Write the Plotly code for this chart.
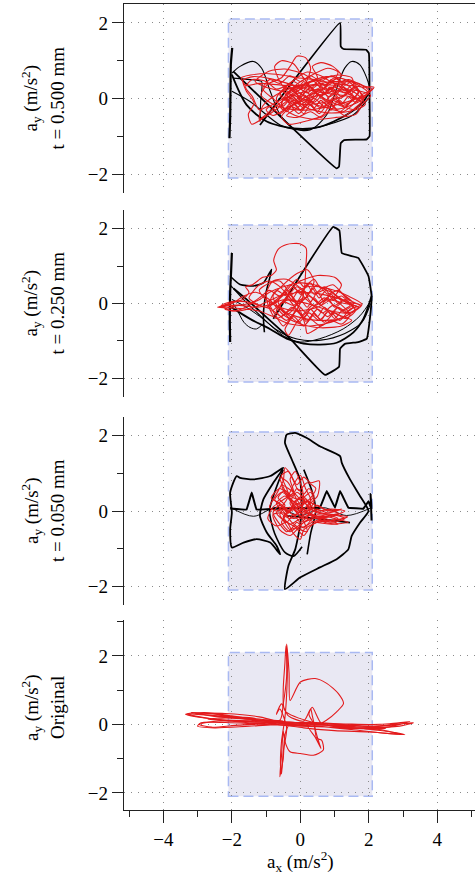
import plotly.graph_objects as go

# ---------------------------------------------------------------
# Acceleration trajectories (a_x, a_y) in m/s^2 for four cases
# ---------------------------------------------------------------
panel_labels = ["t = 0.500 mm", "t = 0.250 mm", "t = 0.050 mm", "Original"]
x_ticks = [-4, -2, 0, 2, 4]
y_ticks = [-2, 0, 2]
limit_box = 2.1  # acceleration limit square (|a| <= 2.1 m/s^2)

# --- t = 0.500 mm -------------------------------------------------
p1_black_arrow = [(-1.18, -0.70), (1.16, 2.0), (1.18, 1.38), (1.26, 1.31), (1.92, 1.29),
                  (2.0, 1.2), (2.02, 0.0), (2.02, -1.0), (1.94, -1.08), (1.28, -1.1),
                  (1.18, -1.18), (1.13, -1.8), (1.06, -1.85), (-1.96, 0.72)]
p1_black_left = [(-1.99, 1.34), (-2.03, 0.9), (-2.04, 0.2), (-2.05, -0.5), (-2.07, -1.05)]
p1_black_bowl_a = [(-2.0, 0.63), (-1.57, -0.17), (-0.98, -0.61), (-0.2, -0.79), (0.57, -0.75),
                   (1.35, -0.43), (1.84, -0.08), (2.02, 0.19)]
p1_black_bowl_b = [(-2.0, 0.67), (-1.76, 0.85), (-1.37, 0.98), (-1.13, 0.80), (-0.88, 0.19),
                   (-0.59, -0.43), (-0.2, -0.79), (0.28, -0.83), (0.77, -0.43), (1.06, 0.27),
                   (1.3, 0.81), (1.5, 0.98), (1.74, 0.89), (1.94, 0.54), (2.02, 0.3)]
p1_black_bowl_c = [(-2.0, 0.19), (-1.47, -0.08), (-0.59, -0.70), (0.0, -0.83), (0.77, -0.70),
                   (1.55, -0.43), (1.99, 0.01)]
p1_black_hook = [(-1.96, 0.54), (-1.47, 0.50), (-1.13, 0.45), (-1.16, -0.08), (-1.18, -0.61)]
p1_red = [(-1.72, 0.55), (-1.45, 0.62), (-1.0, 0.66), (-0.55, 0.62), (-0.1, 0.55), (0.4, 0.5),
          (0.9, 0.42), (1.4, 0.35), (1.85, 0.3), (2.15, 0.3), (1.95, 0.12), (1.5, -0.05),
          (0.9, -0.2), (0.3, -0.3), (-0.3, -0.28), (-0.8, -0.15), (-1.15, 0.1), (-0.95, 0.38),
          (-0.55, 0.55), (-0.3, 0.85), (-0.1, 1.12), (0.15, 1.08), (0.3, 0.8), (0.15, 0.4),
          (-0.25, 0.05), (-0.65, -0.25), (-1.05, -0.5), (-1.42, -0.68), (-1.52, -0.42),
          (-1.35, -0.12), (-1.58, 0.2), (-1.68, 0.48), (-1.38, 0.58), (-0.85, 0.52), (-0.3, 0.38),
          (0.3, 0.22), (0.9, 0.12), (1.45, 0.05), (1.8, -0.12), (1.62, -0.42), (1.05, -0.5),
          (0.45, -0.55), (-0.15, -0.45), (-0.55, -0.2), (-0.35, 0.18), (0.2, 0.42), (0.75, 0.58),
          (1.25, 0.52), (1.7, 0.35), (1.98, 0.15), (1.72, -0.08), (1.1, -0.28), (0.5, -0.18),
          (0.0, 0.02), (-0.5, 0.18), (-1.0, 0.3), (-1.32, 0.45), (-0.92, 0.72), (-0.45, 0.78),
          (0.15, 0.62), (0.55, 0.32), (0.85, -0.08), (0.65, -0.45), (0.15, -0.6), (-0.35, -0.68),
          (-0.55, -0.48), (-0.25, -0.2), (0.4, 0.05), (1.0, 0.2), (1.6, 0.22), (2.05, 0.08),
          (1.5, -0.32), (0.8, -0.38), (0.2, -0.25), (-0.3, 0.1), (-0.6, 0.45), (-0.75, 0.85),
          (-0.55, 1.0), (-0.2, 0.92), (0.05, 0.6), (0.3, 0.3), (0.7, 0.0), (1.2, -0.2), (1.6, -0.3),
          (1.9, -0.15), (1.6, 0.15), (1.0, 0.35), (0.4, 0.35), (-0.1, 0.2), (-0.5, -0.05),
          (-0.9, -0.35), (-1.2, -0.55), (-1.1, -0.2), (-0.7, 0.1), (-0.2, 0.3), (0.5, 0.48),
          (1.1, 0.62), (1.5, 0.55), (1.55, 0.3), (1.2, 0.05), (0.6, -0.12), (0.0, -0.15),
          (-0.4, 0.0), (-0.2, 0.3), (0.3, 0.6), (0.8, 0.8), (1.1, 0.7), (0.9, 0.4), (0.3, 0.1),
          (-0.3, -0.2), (-0.8, -0.45), (-1.0, -0.3), (-0.6, -0.05), (0.0, 0.15), (0.7, 0.25),
          (1.3, 0.15), (1.75, 0.0), (2.0, 0.2), (1.7, 0.4), (1.0, 0.45), (0.2, 0.35), (-0.5, 0.35),
          (-1.2, 0.4), (-1.6, 0.35), (-1.72, 0.55)]
p1_red_b = [(-0.4, 0.1), (-0.1, 0.3), (0.2, 0.15), (0.5, 0.35), (0.8, 0.2), (1.1, 0.4), (1.4, 0.2),
            (1.6, 0.0), (1.3, -0.15), (1.0, 0.05), (0.7, -0.2), (0.4, 0.0), (0.1, -0.25), (-0.2, -0.05),
            (-0.5, -0.3), (-0.7, 0.0), (-0.5, 0.25), (-0.2, 0.45), (0.1, 0.3), (0.4, 0.5), (0.7, 0.35),
            (1.0, 0.55), (1.3, 0.35), (1.5, 0.45), (1.7, 0.2), (1.45, -0.1), (1.15, -0.35),
            (0.85, -0.1), (0.55, -0.4), (0.25, -0.15), (-0.05, -0.4), (-0.35, -0.1), (-0.6, 0.15),
            (-0.3, 0.3), (0.0, 0.05), (0.3, 0.3), (0.6, 0.05), (0.9, 0.3), (1.2, 0.05), (1.5, 0.25),
            (1.2, 0.45), (0.9, 0.6), (0.6, 0.45), (0.3, 0.6), (0.0, 0.45), (-0.3, 0.6), (-0.6, 0.4),
            (-0.9, 0.5), (-1.1, 0.25), (-0.8, 0.0), (-0.5, -0.2), (-0.2, 0.1), (0.1, -0.1),
            (0.4, 0.15), (0.7, -0.05), (1.0, -0.25), (1.3, -0.45), (1.6, -0.25), (1.85, 0.0),
            (1.6, 0.3), (1.3, 0.15), (1.0, 0.3), (0.7, 0.15), (0.4, -0.1), (0.1, 0.1), (-0.2, -0.15),
            (-0.45, 0.05), (-0.2, 0.25), (0.15, 0.05), (0.5, 0.25), (0.85, 0.05), (1.2, 0.25),
            (1.55, 0.05), (1.3, -0.2), (0.95, -0.05), (0.6, -0.25), (0.25, -0.05), (-0.1, -0.25),
            (-0.4, -0.45), (-0.1, -0.5), (0.3, -0.35), (0.6, -0.5), (0.9, -0.3), (1.25, -0.35),
            (1.55, -0.15), (1.8, 0.1), (2.1, 0.25), (1.8, 0.35), (1.4, 0.5), (1.0, 0.4), (0.6, 0.6),
            (0.2, 0.7), (-0.1, 0.55), (-0.4, 0.35), (-0.7, 0.25), (-1.0, 0.45), (-1.4, 0.5),
            (-1.6, 0.3), (-1.4, 0.05), (-1.2, -0.3), (-0.9, -0.2), (-0.6, -0.4), (-0.3, -0.2),
            (0.0, -0.3), (0.3, -0.05), (0.6, 0.2), (0.9, 0.45), (1.2, 0.6), (0.95, 0.85), (0.6, 0.95),
            (0.35, 0.85), (0.5, 0.55), (0.2, 0.4), (-0.4, 0.1)]
p1_red_c = [(0.0, 0.0), (0.15, 0.2), (0.35, 0.05), (0.5, 0.25), (0.7, 0.1), (0.85, 0.3), (1.05, 0.12),
            (1.25, 0.3), (1.45, 0.1), (1.65, 0.25), (1.8, 0.05), (1.6, -0.1), (1.4, 0.05), (1.2, -0.15),
            (1.0, 0.0), (0.8, -0.2), (0.6, -0.05), (0.4, -0.25), (0.2, -0.1), (0.0, -0.3), (-0.2, -0.15),
            (-0.4, -0.35), (-0.55, -0.1), (-0.35, 0.05), (-0.15, -0.05), (0.05, 0.15), (0.25, 0.35),
            (0.45, 0.15), (0.65, 0.4), (0.85, 0.15), (1.05, 0.4), (1.3, 0.2), (1.5, 0.35), (1.7, 0.15),
            (1.5, -0.05), (1.3, -0.25), (1.1, -0.05), (0.9, -0.3), (0.7, -0.1), (0.5, -0.35),
            (0.3, -0.15), (0.1, -0.4), (-0.1, -0.2), (-0.3, 0.0), (-0.5, 0.2), (-0.3, 0.4), (-0.1, 0.25),
            (0.1, 0.45), (0.3, 0.25), (0.5, 0.45), (0.7, 0.25), (0.9, 0.5), (1.1, 0.25), (1.35, 0.45),
            (1.6, 0.3), (1.4, 0.15), (1.15, 0.0), (0.95, 0.15), (0.75, -0.05), (0.55, 0.1), (0.35, -0.1),
            (0.15, 0.05), (-0.05, -0.1), (-0.25, 0.1), (-0.45, -0.05), (-0.6, 0.1), (-0.4, 0.3),
            (-0.1, 0.1), (0.0, 0.0)]

# --- t = 0.250 mm -------------------------------------------------
p2_black_arrow = [(-0.79, -0.41), (0.96, 2.05), (1.14, 1.95), (1.21, 1.35), (1.45, 1.28),
                  (1.69, 1.22), (1.99, 0.73), (2.08, 0.20), (2.03, -0.41), (1.94, -0.94),
                  (1.69, -1.03), (1.30, -1.08), (1.16, -1.21), (1.13, -1.69), (0.72, -1.91),
                  (-0.30, -0.94), (-1.57, 0.11), (-1.95, 0.4)]
p2_black_left = [(-2.0, 1.35), (-2.02, 0.9), (-2.05, 0.3), (-2.06, -0.4), (-2.05, -1.03)]
p2_black_tail = [(-2.05, 0.73), (-1.76, 0.51), (-1.37, 0.47), (-1.08, 0.55), (-0.84, 0.91),
                 (-1.0, 0.3), (-1.08, -0.3), (-1.05, -0.77)]
p2_black_small = [(-2.0, 0.05), (-1.86, -0.15), (-1.65, -0.5), (-1.47, -0.64), (-1.28, -0.68),
                  (-1.1, -0.55)]
p2_black_bowl_a = [(-2.0, -0.11), (-1.47, -0.41), (-0.89, -0.68), (-0.40, -0.94), (0.09, -1.07),
                   (0.57, -1.10), (1.06, -1.05), (1.55, -0.77), (1.84, -0.41), (2.08, 0.20)]
p2_black_bowl_b = [(-2.0, 0.11), (-1.56, -0.11), (-1.08, -0.42), (-0.50, -0.86), (-0.01, -1.03),
                   (0.57, -0.94), (1.25, -0.68), (1.74, -0.33), (2.08, 0.11)]
p2_black_bowl_c = [(-2.05, 0.5), (-1.6, 0.05), (-1.2, -0.3), (-0.7, -0.7), (-0.1, -0.95),
                   (0.6, -0.98), (1.3, -0.8), (1.8, -0.5), (2.05, 0.0)]
p2_red = [(-2.42, -0.1), (-2.0, -0.05), (-1.6, -0.02), (-1.2, 0.1), (-0.9, 0.3), (-0.5, 0.45),
          (0.0, 0.55), (0.4, 0.5), (0.9, 0.3), (1.35, 0.05), (1.78, -0.05), (1.4, -0.3),
          (0.9, -0.5), (0.3, -0.6), (-0.3, -0.55), (-0.8, -0.35), (-1.2, -0.2), (-1.6, -0.15),
          (-2.0, -0.12), (-2.4, -0.1), (-2.1, 0.0), (-1.7, 0.1), (-1.5, 0.3), (-1.6, 0.45),
          (-1.4, 0.5), (-1.1, 0.7), (-0.85, 0.75), (-0.7, 0.9), (-0.78, 1.15), (-0.65, 1.45),
          (-0.4, 1.58), (-0.02, 1.6), (0.17, 1.48), (0.16, 1.0), (0.13, 0.5), (0.05, 0.1),
          (-0.2, -0.3), (-0.45, -0.7), (-0.35, -0.85), (-0.1, -0.5), (0.3, -0.15), (0.8, 0.1),
          (1.3, 0.0), (1.7, -0.1), (1.3, -0.35), (0.7, -0.55), (0.2, -0.8), (0.15, -0.6),
          (0.0, -0.2), (-0.3, 0.25), (-0.6, 0.6), (-0.9, 0.55), (-1.2, 0.35), (-1.0, 0.1),
          (-0.6, -0.1), (-0.1, -0.2), (0.5, -0.1), (1.0, 0.2), (1.2, 0.5), (1.0, 0.7), (0.5, 0.75),
          (0.0, 0.6), (-0.4, 0.3), (-0.8, 0.0), (-1.3, -0.1), (-1.8, -0.05), (-2.2, -0.15),
          (-1.8, -0.2), (-1.2, -0.05), (-0.6, 0.2), (0.0, 0.3), (0.6, 0.25), (1.2, 0.1),
          (1.6, -0.15), (1.2, -0.4), (0.5, -0.45), (-0.1, -0.35), (-0.6, -0.15), (-0.8, 0.2),
          (-0.5, 0.5), (-0.1, 0.8), (0.2, 0.9), (0.4, 0.6), (0.2, 0.2), (-0.2, -0.1), (-0.7, -0.4),
          (-0.9, -0.1), (-0.5, 0.1), (0.2, 0.0), (0.9, -0.2), (1.5, -0.25), (1.8, -0.02), (1.4, 0.2),
          (0.8, 0.4), (0.2, 0.45), (-0.4, 0.15), (-0.85, -0.2), (-1.0, 0.25), (-0.8, 0.6),
          (-0.4, 0.65), (0.1, 0.35), (0.6, -0.05), (1.1, -0.3), (1.5, -0.45), (1.2, -0.6),
          (0.6, -0.65), (0.0, -0.55), (-0.5, -0.3), (-0.9, 0.1), (-1.3, 0.3), (-1.65, 0.2),
          (-2.0, 0.0), (-2.42, -0.1)]
p2_red_b = [(-0.6, 0.2), (-0.3, 0.5), (0.0, 0.3), (0.3, 0.55), (0.5, 0.3), (0.8, 0.4), (1.1, 0.15),
            (1.4, 0.0), (1.7, -0.1), (1.4, -0.25), (1.1, -0.1), (0.8, -0.35), (0.5, -0.15),
            (0.2, -0.45), (-0.1, -0.2), (-0.4, -0.45), (-0.7, -0.2), (-0.5, 0.05), (-0.2, -0.05),
            (0.1, 0.15), (0.4, -0.05), (0.7, 0.15), (1.0, -0.05), (1.3, 0.1), (1.6, -0.2), (1.3, -0.4),
            (1.0, -0.25), (0.7, -0.5), (0.4, -0.3), (0.1, -0.6), (-0.2, -0.35), (-0.5, -0.6),
            (-0.7, -0.35), (-0.9, 0.0), (-0.7, 0.35), (-0.4, 0.2), (-0.1, 0.45), (0.2, 0.25),
            (0.5, 0.5), (0.8, 0.25), (1.1, 0.35), (1.4, 0.1), (1.75, -0.05), (1.45, -0.15),
            (1.15, -0.45), (0.85, -0.2), (0.55, -0.45), (0.25, -0.25), (-0.05, -0.5), (-0.35, -0.3),
            (-0.6, -0.05), (-0.35, 0.1), (-0.05, 0.0), (0.25, 0.2), (0.55, 0.0), (0.85, 0.2),
            (1.15, 0.0), (1.45, -0.3), (1.2, -0.55), (0.9, -0.45), (0.6, -0.6), (0.3, -0.4),
            (0.0, -0.1), (-0.3, 0.15), (-0.6, 0.45), (-0.9, 0.6), (-1.2, 0.5), (-1.4, 0.3),
            (-1.5, 0.15), (-1.3, 0.0), (-1.0, -0.1), (-0.7, 0.1), (-0.4, 0.35), (-0.1, 0.65),
            (0.1, 0.45), (0.4, 0.65), (0.6, 0.4), (0.95, 0.5), (1.25, 0.25), (1.55, 0.0),
            (1.25, -0.2), (0.95, -0.05), (0.65, -0.25), (0.35, -0.05), (0.05, -0.3), (-0.25, -0.1),
            (-0.55, -0.35), (-0.85, -0.15), (-1.2, -0.05), (-1.6, 0.05), (-2.0, 0.05), (-2.3, -0.05),
            (-2.0, -0.2), (-1.6, -0.1), (-1.2, 0.15), (-0.9, 0.35), (-0.6, 0.2)]
p2_red_c = [(-0.5, 0.0), (-0.3, 0.25), (-0.1, 0.05), (0.1, 0.3), (0.3, 0.05), (0.5, 0.3), (0.7, 0.05),
            (0.9, 0.25), (1.1, 0.0), (1.3, 0.1), (1.55, -0.08), (1.3, -0.25), (1.1, -0.1), (0.9, -0.3),
            (0.7, -0.1), (0.5, -0.35), (0.3, -0.15), (0.1, -0.4), (-0.1, -0.15), (-0.3, -0.4),
            (-0.5, -0.2), (-0.65, 0.05), (-0.45, 0.3), (-0.25, 0.1), (-0.05, 0.35), (0.15, 0.15),
            (0.35, 0.4), (0.55, 0.15), (0.75, 0.35), (0.95, 0.1), (1.2, 0.2), (1.45, -0.05),
            (1.2, -0.2), (1.0, -0.4), (0.8, -0.2), (0.6, -0.45), (0.4, -0.25), (0.2, -0.5), (0.0, -0.3),
            (-0.2, -0.05), (-0.4, 0.15), (-0.6, -0.1), (-0.4, -0.3), (-0.2, -0.15), (0.0, 0.1),
            (0.2, -0.1), (0.4, 0.15), (0.6, -0.05), (0.8, 0.15), (1.0, -0.1), (1.2, 0.05), (1.0, 0.25),
            (0.7, 0.45), (0.4, 0.25), (0.2, 0.5), (0.0, 0.25), (-0.2, 0.45), (-0.5, 0.0)]

# --- t = 0.050 mm -------------------------------------------------
p3_black_loop = [(-0.45, -2.08), (-0.35, -1.46), (-0.15, -1.02), (-0.01, -0.40), (0.04, 0.22),
                 (-0.01, 0.84), (-0.25, 1.37), (-0.45, 1.81), (-0.40, 2.03), (-0.15, 2.08),
                 (0.19, 1.94), (0.57, 1.72), (1.16, 1.46), (1.21, 1.28), (1.45, 0.84), (1.74, 0.40),
                 (1.99, 0.0), (1.74, -0.31), (1.50, -0.66), (1.40, -1.02), (1.06, -1.28),
                 (0.57, -1.50), (-0.01, -1.77), (-0.45, -2.08)]
p3_black_hourglass = [(-1.86, 0.93), (-2.05, 0.49), (-2.0, -0.04), (-2.05, -0.49), (-2.0, -0.97),
                      (-1.66, -0.84), (-1.28, -0.75), (-0.88, -0.84), (-0.59, -1.15),
                      (-0.69, -0.93), (-0.98, -0.57), (-1.18, -0.13), (-1.08, 0.31), (-0.79, 0.75),
                      (-0.50, 1.15), (-0.88, 0.93), (-1.37, 0.84), (-1.76, 0.88), (-1.86, 0.93)]
p3_black_axis = [(-2.05, 0.07), (-1.57, 0.04), (-1.42, 0.49), (-1.28, 0.04), (-0.5, 0.07),
                 (0.57, 0.09), (0.77, 0.53), (1.01, 0.09), (1.16, 0.53), (1.40, 0.09),
                 (1.84, 0.06), (1.99, 0.26), (2.08, 0.04), (2.05, 0.45), (2.08, -0.25)]
p3_black_wave = [(-2.05, 0.1), (-1.37, -0.14), (-0.69, 0.1), (-0.01, -0.12), (0.67, 0.09),
                 (1.35, -0.12), (2.08, 0.09)]
p3_black_inner_l = [(-0.5, 1.1), (-0.75, 0.5), (-0.9, 0.0), (-0.75, -0.6), (-0.45, -1.1),
                    (-0.2, -1.2), (0.05, -0.95)]
p3_black_inner_r = [(0.1, 1.1), (0.35, 0.5), (0.45, 0.0), (0.3, -0.6), (0.2, -1.15)]
p3_black_bar = [(-0.4, -0.13), (0.5, -0.2), (1.45, -0.31)]
p3_red = [(-0.9, 0.1), (-0.7, 0.45), (-0.5, 0.8), (-0.45, 1.15), (-0.3, 1.0), (-0.1, 0.7),
          (0.1, 0.9), (0.3, 0.75), (0.55, 0.8), (0.5, 0.4), (0.2, 0.1), (0.6, -0.05), (1.0, -0.1),
          (1.38, -0.15), (1.0, -0.25), (0.5, -0.3), (0.1, -0.5), (0.0, -0.75), (-0.2, -0.6),
          (-0.4, -0.3), (-0.7, -0.4), (-0.95, -0.2), (-0.8, 0.1), (-0.5, 0.3), (-0.2, 0.5),
          (-0.3, 0.85), (-0.15, 1.05), (0.05, 0.6), (0.15, 0.2), (0.4, 0.0), (0.9, 0.05), (1.3, 0.0),
          (0.9, -0.15), (0.4, -0.2), (0.0, -0.35), (-0.3, -0.55), (-0.55, -0.3), (-0.35, 0.0),
          (-0.6, 0.2), (-0.85, 0.35), (-0.6, 0.6), (-0.3, 0.4), (0.0, 0.3), (0.3, 0.5), (0.4, 0.25),
          (0.1, -0.1), (-0.2, -0.2), (-0.5, -0.05), (-0.8, -0.1), (-0.6, -0.5), (-0.3, -0.65),
          (0.1, -0.3), (0.5, -0.1), (1.0, -0.2), (1.4, -0.3), (0.9, -0.35), (0.3, -0.25),
          (-0.1, 0.05), (-0.4, 0.45), (-0.6, 0.9), (-0.35, 0.75), (-0.1, 0.3), (0.2, -0.05),
          (0.6, -0.15), (1.1, -0.05), (0.7, 0.05), (0.2, 0.25), (-0.2, 0.15), (-0.5, -0.2),
          (-0.2, -0.4), (0.2, -0.55), (0.05, -0.2), (-0.3, 0.1), (-0.7, 0.0), (-0.9, 0.1)]
p3_red_b = [(-0.3, 0.2), (-0.1, 0.5), (0.1, 0.3), (0.0, 0.0), (-0.3, -0.2), (-0.6, 0.0), (-0.4, 0.3),
            (-0.2, 0.7), (0.0, 0.95), (0.15, 0.6), (0.3, 0.3), (0.1, 0.05), (-0.2, -0.1), (-0.5, 0.1),
            (-0.75, 0.3), (-0.55, 0.5), (-0.3, 0.35), (-0.05, 0.1), (0.25, -0.1), (0.6, -0.2),
            (0.95, -0.1), (1.3, -0.2), (0.95, -0.3), (0.6, -0.25), (0.3, -0.4), (0.1, -0.65),
            (-0.15, -0.45), (-0.4, -0.55), (-0.6, -0.35), (-0.8, -0.05), (-0.6, 0.15), (-0.35, -0.05),
            (-0.1, 0.2), (0.2, 0.0), (0.5, 0.15), (0.8, 0.0), (1.2, 0.05), (0.8, -0.05), (0.45, 0.05),
            (0.15, -0.2), (-0.15, 0.0), (-0.4, 0.6), (-0.55, 0.95), (-0.35, 1.05), (-0.2, 0.8),
            (-0.05, 0.55), (0.2, 0.75), (0.45, 0.6), (0.3, 0.35), (0.05, 0.15), (-0.25, 0.05),
            (-0.5, -0.15), (-0.3, -0.35), (0.0, -0.2), (0.3, -0.1), (0.7, -0.3), (1.1, -0.35),
            (0.7, -0.2), (0.35, -0.3), (0.0, -0.45), (-0.25, -0.3), (-0.5, 0.0), (-0.7, 0.2),
            (-0.45, 0.4), (-0.2, 0.25), (0.05, 0.4), (0.3, 0.15), (0.0, -0.05), (-0.3, 0.2)]
p3_red_c = [(-0.3, 0.0), (-0.15, 0.25), (0.0, 0.05), (0.15, 0.3), (0.3, 0.1), (0.2, -0.15), (0.0, -0.3),
            (-0.2, -0.1), (-0.4, -0.3), (-0.6, -0.1), (-0.45, 0.15), (-0.65, 0.35), (-0.45, 0.55),
            (-0.25, 0.4), (-0.1, 0.6), (0.1, 0.45), (0.25, 0.6), (0.4, 0.4), (0.25, 0.2), (0.45, 0.0),
            (0.3, -0.25), (0.1, -0.45), (-0.1, -0.3), (-0.3, -0.5), (-0.5, -0.25), (-0.7, -0.05),
            (-0.55, 0.1), (-0.35, -0.05), (-0.2, 0.15), (0.05, -0.05), (0.25, -0.05), (0.5, -0.15),
            (0.8, -0.25), (1.1, -0.2), (0.8, -0.1), (0.5, -0.05), (0.2, 0.15), (0.0, 0.35),
            (-0.2, 0.2), (-0.4, 0.4), (-0.55, 0.7), (-0.35, 0.6), (-0.15, 0.45), (0.05, 0.2),
            (-0.3, 0.0)]

# --- Original -----------------------------------------------------
p4_red = [(-0.5, 0.1), (-1.2, 0.15), (-2.0, 0.25), (-2.8, 0.35), (-3.35, 0.3), (-2.9, 0.2),
          (-2.0, 0.12), (-1.0, 0.1), (0.0, 0.05), (1.0, 0.0), (2.0, -0.05), (2.8, 0.0), (3.3, 0.05),
          (2.9, -0.05), (2.0, -0.1), (1.0, -0.08), (0.0, -0.05), (-1.0, 0.0), (-2.0, 0.05),
          (-2.9, 0.05), (-3.0, -0.05), (-2.5, -0.1), (-1.5, -0.05), (-0.5, 0.0), (0.5, -0.05),
          (1.5, -0.15), (2.4, -0.25), (3.05, -0.3), (2.5, -0.2), (1.5, -0.1), (0.5, 0.0),
          (-0.5, 0.05), (-1.5, 0.15), (-2.5, 0.3), (-3.2, 0.35), (-2.5, 0.25), (-1.5, 0.2),
          (-0.6, 0.12), (-0.5, 0.6), (-0.4, 1.4), (-0.4, 2.35), (-0.33, 1.5), (-0.3, 0.7),
          (0.0, 1.24), (0.43, 1.34), (0.77, 1.2), (1.11, 0.9), (1.26, 0.61), (1.06, 0.37),
          (0.77, 0.13), (0.6, 0.05), (0.35, 0.5), (0.25, 0.3), (0.4, 0.0), (0.48, -0.41),
          (0.62, -0.46), (0.67, -0.75), (0.38, -0.9), (0.0, -0.85), (-0.3, -0.8), (-0.45, -0.5),
          (-0.5, -0.2), (-0.55, -0.9), (-0.6, -1.53), (-0.5, -1.0), (-0.45, -0.3), (-0.3, 0.02),
          (0.6, 0.05), (1.8, -0.05), (2.5, -0.12), (1.6, -0.12), (0.5, -0.05), (-0.8, 0.05),
          (-2.0, 0.1), (-2.7, 0.15), (-2.0, 0.2), (-0.5, 0.1)]
p4_red_b = [(-0.45, 0.0), (-1.5, 0.05), (-2.5, 0.15), (-3.1, 0.25), (-3.3, 0.3), (-2.8, 0.28),
            (-1.8, 0.18), (-0.8, 0.08), (0.3, 0.02), (1.4, -0.05), (2.4, -0.1), (3.2, 0.08),
            (2.6, 0.02), (1.6, -0.02), (0.6, -0.02), (-0.4, 0.02), (-1.4, 0.08), (-2.4, 0.1),
            (-2.95, 0.0), (-2.6, -0.08), (-1.8, -0.02), (-0.9, 0.02), (0.1, -0.1), (1.0, -0.18),
            (2.0, -0.22), (2.9, -0.28), (2.3, -0.15), (1.3, -0.08), (0.4, 0.05), (-0.45, 0.4),
            (-0.5, 1.0), (-0.45, 1.8), (-0.42, 2.3), (-0.38, 1.7), (-0.4, 0.9), (-0.45, 0.2),
            (-0.55, -0.5), (-0.58, -1.2), (-0.55, -1.45), (-0.5, -0.8), (-0.4, -0.1), (-0.6, 0.45),
            (-0.7, 0.3), (-0.55, 0.6), (-0.35, 0.25), (0.1, 0.1), (0.3, 0.45), (0.35, 0.25),
            (0.45, -0.2), (0.55, -0.55), (0.6, -0.7), (0.45, -0.4), (0.2, 0.0), (1.0, 0.02),
            (2.0, 0.0), (3.0, 0.02), (2.2, -0.06), (1.0, -0.04), (-0.2, 0.06), (-1.2, 0.12),
            (-2.2, 0.2), (-3.0, 0.32), (-2.2, 0.32), (-1.2, 0.22), (-0.45, 0.0)]

panels = [
    dict(black=[(p1_black_arrow, 1.8, 0.3), (p1_black_left, 2.2, 0.6), (p1_black_bowl_a, 1.8, 0.8),
                (p1_black_bowl_b, 1.1, 0.9), (p1_black_bowl_c, 1.1, 0.8), (p1_black_hook, 1.1, 0.5)],
         red=[p1_red, p1_red_b, p1_red_c], yrange=[-2.5, 2.5], domain=[0.7655, 1.0], center=98.5),
    dict(black=[(p2_black_arrow, 1.8, 0.3), (p2_black_left, 2.2, 0.6), (p2_black_tail, 1.6, 0.6),
                (p2_black_small, 1.0, 0.9), (p2_black_bowl_a, 1.8, 0.8), (p2_black_bowl_b, 1.0, 0.9),
                (p2_black_bowl_c, 1.1, 0.8)],
         red=[p2_red, p2_red_b, p2_red_c], yrange=[-2.5, 2.5], domain=[0.5124, 0.7444], center=303.5),
    dict(black=[(p3_black_loop, 1.8, 0.5), (p3_black_hourglass, 1.8, 0.6), (p3_black_axis, 2.0, 0.1),
                (p3_black_wave, 0.9, 0.9), (p3_black_inner_l, 1.6, 0.7), (p3_black_inner_r, 1.6, 0.7),
                (p3_black_bar, 1.8, 0.3)],
         red=[p3_red, p3_red_b, p3_red_c], yrange=[-2.5, 2.5], domain=[0.2543, 0.4876], center=511.0),
    dict(black=[], red=[p4_red, p4_red_b], yrange=[-2.5, 3.05], domain=[0.0, 0.2357], center=708.0),
]

FONT = "Liberation Serif"
AXIS_COLOR = "#222222"
GRID = dict(showgrid=True, gridcolor="#8a8a8a", griddash="1px,6px", gridwidth=1)

fig = go.Figure()
shapes, annotations = [], []
layout = dict(width=475, height=877, margin=dict(l=124, r=0, t=4, b=67),
              paper_bgcolor="white", plot_bgcolor="white", showlegend=False,
              font=dict(family=FONT, size=19, color="black"))

for i, pan in enumerate(panels, start=1):
    xa, ya = ("x" if i == 1 else f"x{i}"), ("y" if i == 1 else f"y{i}")
    for pts, w, sm in pan["black"]:
        fig.add_trace(go.Scatter(x=[p[0] for p in pts], y=[p[1] for p in pts], mode="lines",
                                 xaxis=xa, yaxis=ya, hoverinfo="skip",
                                 line=dict(color="black", width=w, shape="spline", smoothing=sm)))
    for red in pan["red"]:
        fig.add_trace(go.Scatter(x=[p[0] for p in red], y=[p[1] for p in red], mode="lines",
                                 xaxis=xa, yaxis=ya, hoverinfo="skip",
                                 line=dict(color="#e31a1c", width=1.1, shape="spline",
                                           smoothing=0.7)))

    xaxis = dict(domain=[0, 1], range=[-5.15, 5.1], tickvals=x_ticks, zeroline=False,
                 anchor=ya, showticklabels=False, ticks="", showline=False, **GRID)
    if i == 1:
        xaxis.update(side="top", showline=True, linecolor=AXIS_COLOR, linewidth=1.3)
    if i == 4:
        xaxis.update(showticklabels=True, ticks="outside", ticklen=12, tickwidth=1.2,
                     tickcolor=AXIS_COLOR, showline=True, linecolor=AXIS_COLOR, linewidth=1.3,
                     minor=dict(dtick=1, tick0=1, ticks="outside", ticklen=6, tickwidth=1.2,
                                tickcolor=AXIS_COLOR, showgrid=False),
                     tickfont=dict(family=FONT, size=19, color="black"))
    layout["xaxis" if i == 1 else f"xaxis{i}"] = xaxis
    layout["yaxis" if i == 1 else f"yaxis{i}"] = dict(
        domain=pan["domain"], range=pan["yrange"], tickvals=y_ticks, anchor=xa, zeroline=False,
        ticks="outside", ticklen=11, tickwidth=1.2, tickcolor=AXIS_COLOR,
        showline=True, linecolor=AXIS_COLOR, linewidth=1.3,
        minor=dict(dtick=1, tick0=1, ticks="outside", ticklen=6, tickwidth=1.2,
                   tickcolor=AXIS_COLOR, showgrid=False),
        tickfont=dict(family=FONT, size=19, color="black"), **GRID)

    shapes.append(dict(type="rect", xref=xa, yref=ya, x0=-limit_box, x1=limit_box,
                       y0=-limit_box, y1=limit_box, layer="below", fillcolor="#e9e8f3",
                       line=dict(color="#a9b9f2", width=1.5, dash="10px,5px")))

    yc = (810 - pan["center"]) / 806
    annotations.append(dict(xref="paper", yref="paper", x=0, y=yc, xshift=-93, textangle=-90,
                            xanchor="center", yanchor="middle", showarrow=False,
                            text="a<sub>y</sub> (m/s<sup>2</sup>)",
                            font=dict(family=FONT, size=19, color="black")))
    annotations.append(dict(xref="paper", yref="paper", x=0, y=yc, xshift=-67, textangle=-90,
                            xanchor="center", yanchor="middle", showarrow=False,
                            text=panel_labels[i - 1],
                            font=dict(family=FONT, size=19, color="black")))

annotations.append(dict(xref="paper", yref="paper", x=(300.3 - 124) / 351, y=0, yshift=-51,
                        xanchor="center", yanchor="middle", showarrow=False,
                        text="a<sub>x</sub> (m/s<sup>2</sup>)",
                        font=dict(family=FONT, size=19, color="black")))

layout["shapes"] = shapes
layout["annotations"] = annotations
fig.update_layout(**layout)
fig.write_html("out.html")
